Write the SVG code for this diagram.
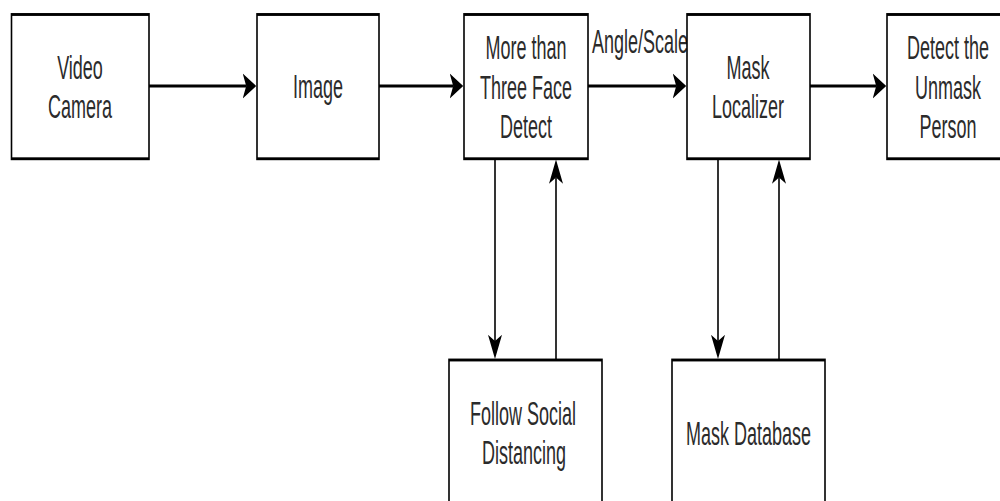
<svg xmlns="http://www.w3.org/2000/svg" width="1000" height="501" viewBox="0 0 1000 501">
<style>
.box{fill:#fff;stroke:#000;stroke-width:1.6}
.lbl{font-family:"Liberation Sans",Arial,sans-serif;font-size:18px;fill:#2b2b2b;text-anchor:middle}
.edge{stroke:#000;stroke-width:1.6;fill:none}
</style>
<defs>
<marker id="arr" markerUnits="userSpaceOnUse" markerWidth="14" markerHeight="14" refX="3.5" refY="7" orient="auto" viewBox="0 0 14 14">
<path d="M0,0 L13.5,7 L0,14 L3.5,7 Z" fill="#000"/>
</marker>
</defs>
<rect width="1000" height="501" fill="#fff"/>
<g transform="scale(1,1.8)">
<g id="connectors">
<line class="edge" x1="149" y1="47.8" x2="246.2" y2="47.8" marker-end="url(#arr)"/>
<line class="edge" x1="379" y1="47.8" x2="453.2" y2="47.8" marker-end="url(#arr)"/>
<line class="edge" x1="588" y1="47.8" x2="676.2" y2="47.8" marker-end="url(#arr)"/>
<text class="lbl" x="640" y="29.4">Angle/Scale</text>
<line class="edge" x1="810" y1="47.8" x2="876.2" y2="47.8" marker-end="url(#arr)"/>
<line class="edge" x1="495" y1="88.2" x2="495" y2="189.5" marker-end="url(#arr)"/>
<line class="edge" x1="556" y1="200" x2="556" y2="98.6" marker-end="url(#arr)"/>
<line class="edge" x1="718" y1="88.2" x2="718" y2="189.5" marker-end="url(#arr)"/>
<line class="edge" x1="779" y1="200" x2="779" y2="98.6" marker-end="url(#arr)"/>
</g>
<g id="video-camera">
<rect class="box" x="11.5" y="8.05" width="137.5" height="80.15"/>
<text class="lbl" x="80" y="43.9">Video</text>
<text class="lbl" x="80" y="65.6">Camera</text>
</g>
<g id="image">
<rect class="box" x="257" y="8.05" width="122" height="80.15"/>
<text class="lbl" x="318" y="54.4">Image</text>
</g>
<g id="face-detect">
<rect class="box" x="464" y="8.05" width="124" height="80.15"/>
<text class="lbl" x="526" y="32.8">More than</text>
<text class="lbl" x="526" y="55">Three Face</text>
<text class="lbl" x="526" y="76.7">Detect</text>
</g>
<g id="mask-localizer">
<rect class="box" x="687" y="8.05" width="123" height="80.15"/>
<text class="lbl" x="748" y="43.9">Mask</text>
<text class="lbl" x="748" y="65.6">Localizer</text>
</g>
<g id="detect-unmask">
<rect class="box" x="887" y="8.05" width="130" height="80.15"/>
<text class="lbl" x="948" y="32.8">Detect the</text>
<text class="lbl" x="948" y="55">Unmask</text>
<text class="lbl" x="948" y="76.7">Person</text>
</g>
<g id="social-distancing">
<rect class="box" x="449" y="200" width="153" height="90"/>
<text class="lbl" x="523" y="236.1">Follow Social</text>
<text class="lbl" x="524" y="257.8">Distancing</text>
</g>
<g id="mask-database">
<rect class="box" x="672" y="200" width="153" height="90"/>
<text class="lbl" x="748.5" y="247.2">Mask Database</text>
</g>
</g>
</svg>
